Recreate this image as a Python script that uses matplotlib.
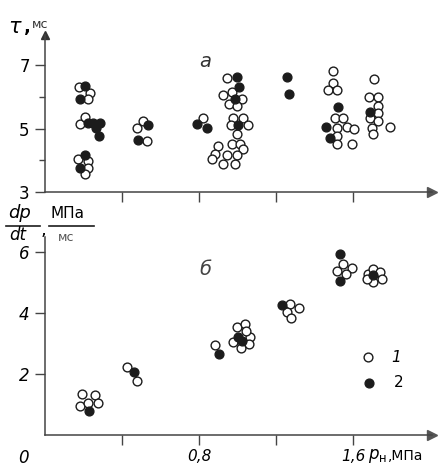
import matplotlib
matplotlib.use('Agg')
import matplotlib.pyplot as plt

# panel a: tau (ms) vs p_n (MPa)
tau_open_p = [0.177, 0.234, 0.223, 0.182, 0.208, 0.171, 0.223, 0.223, 0.208,
              0.478, 0.509, 0.530, 0.821,
              0.945, 0.925, 0.971, 1.023, 0.956, 0.997, 0.977, 1.029, 0.966, 1.055, 0.997,
              0.899, 0.971, 1.013, 1.029, 0.883, 0.945, 0.997, 0.868, 0.925, 0.987,
              1.496, 1.496, 1.470, 1.517, 1.506, 1.548, 1.517, 1.569, 1.605, 1.517, 1.517, 1.595,
              1.709, 1.683, 1.730, 1.730, 1.730, 1.688, 1.730, 1.699, 1.792, 1.704]
tau_open_v = [6.30, 6.11, 5.92, 5.13, 5.38, 4.05, 3.98, 3.76, 3.57,
              5.03, 5.25, 4.62, 5.32,
              6.59, 6.05, 6.14, 5.92, 5.79, 5.70, 5.32, 5.32, 5.10, 5.10, 4.84,
              4.46, 4.52, 4.52, 4.37, 4.21, 4.17, 4.17, 4.05, 3.89, 3.89,
              6.81, 6.43, 6.21, 6.21, 5.32, 5.32, 5.03, 5.06, 5.00, 4.78, 4.52, 4.52,
              6.56, 5.98, 5.98, 5.70, 5.48, 5.32, 5.25, 5.03, 5.06, 4.84]
tau_fill_p = [0.208, 0.182, 0.223, 0.249, 0.286, 0.265, 0.281, 0.208, 0.182,
              0.535, 0.483, 0.790, 0.842,
              0.997, 1.008, 0.987, 1.003, 1.257, 1.268,
              1.522, 1.460, 1.481, 1.688]
tau_fill_v = [6.33, 5.92, 5.19, 5.19, 5.16, 5.03, 4.75, 4.17, 3.76,
              5.10, 4.65, 5.13, 5.03,
              6.62, 6.30, 5.92, 5.10, 6.62, 6.08,
              5.67, 5.06, 4.71, 5.51]

# panel b: dp/dt (MPa/ms) vs p_n (MPa)
dpdt_open_p = [0.192, 0.260, 0.182, 0.223, 0.275, 0.426, 0.478, 0.883,
               0.997, 1.039, 0.977, 1.065, 1.060, 1.018, 1.044,
               1.273, 1.319, 1.257, 1.278,
               1.548, 1.595, 1.564, 1.517,
               1.678, 1.704, 1.740, 1.751, 1.704, 1.673]
dpdt_open_v = [1.35, 1.32, 0.96, 1.06, 1.06, 2.24, 1.78, 2.97,
               3.56, 3.63, 3.04, 3.23, 3.00, 2.84, 3.40,
               4.29, 4.16, 4.03, 3.83,
               5.61, 5.48, 5.28, 5.38,
               5.28, 5.45, 5.35, 5.12, 5.02, 5.12]
dpdt_fill_p = [0.229, 0.462, 0.904, 1.003, 1.023, 1.231, 1.532, 1.532, 1.704]
dpdt_fill_v = [0.79, 2.08, 2.67, 3.23, 3.07, 4.26, 5.94, 5.05, 5.25]

x_ticks = [0.4, 0.8, 1.2, 1.6]
ink = '#1c1c1c'

fig = plt.figure(figsize=(4.38, 4.70), dpi=100)
ax1 = fig.add_axes([45/438, 1-192/470, 387/438, 157/470])
ax2 = fig.add_axes([45/438, 1-435/470, 387/438, 198/470])


def style(ax):
    for s in ['top', 'right']:
        ax.spines[s].set_visible(False)
    for s in ['left', 'bottom']:
        ax.spines[s].set_color('#444444')
        ax.spines[s].set_linewidth(1.1)
    ax.tick_params(which='major', direction='out', length=7, width=1,
                   color='#444444', labelsize=12, pad=4)
    ax.tick_params(which='minor', direction='out', length=4, width=1, color='#444444')
    ax.set_xlim(0, 2.01)
    ax.set_xticks(x_ticks)
    # arrow at the end of the p axis
    ax.plot(1, 0, '>', color='#555555', ms=7, transform=ax.transAxes, clip_on=False)


def draw(ax, op, ov, fp, fv):
    ax.scatter(op, ov, s=40, facecolors='white', edgecolors=ink, linewidths=1.0,
               zorder=3, clip_on=False)
    ax.scatter(fp, fv, s=40, facecolors=ink, edgecolors=ink, linewidths=1.0,
               zorder=4, clip_on=False)


# panel a
style(ax1)
draw(ax1, tau_open_p, tau_open_v, tau_fill_p, tau_fill_v)
ax1.set_ylim(3, 7.95)
ax1.set_yticks([3, 5, 7])
ax1.set_yticks([4, 6], minor=True)
ax1.set_xticklabels([])
ax1.plot(0, 1, '^', color='#333333', ms=6, transform=ax1.transAxes, clip_on=False)
ax1.text(0.80, 6.95, 'а', fontsize=14, style='italic', color='#333333')

# panel b
style(ax2)
draw(ax2, dpdt_open_p, dpdt_open_v, dpdt_fill_p, dpdt_fill_v)
ax2.set_ylim(0, 6.5)
ax2.set_yticks([2, 4, 6])
ax2.set_yticklabels(['2', '4', '6'], style='italic')
ax2.set_xticklabels(['', '0,8', '', '1,6'], style='italic', fontsize=11)
ax2.tick_params(axis='x', pad=3)
ax2.text(0.80, 5.25, 'б', fontsize=14, style='italic', color='#444444')

# legend drawn as markers with numbers
ax2.scatter([1.68], [2.55], s=40, facecolors='white', edgecolors=ink, linewidths=1.0)
ax2.scatter([1.685], [1.72], s=40, facecolors=ink, edgecolors=ink)
ax2.text(1.80, 2.55, '1', fontsize=11, style='italic', va='center')
ax2.text(1.81, 1.72, '2', fontsize=11, va='center')

# axis captions
fig.text(8/438, 1-27/470, 'τ', fontsize=15, style='italic', va='center')
fig.text(24/438, 1-27/470, ',', fontsize=13, va='center', weight='bold')
fig.text(32/438, 1-24/470, 'мс', fontsize=9, va='center', color='#333333')

fig.text(8/438, 1-213/470, 'dp', fontsize=13, style='italic', va='center')
fig.text(9/438, 1-235/470, 'dt', fontsize=12, style='italic', va='center')
fig.add_artist(plt.Line2D([6/438, 40/438], [1-226/470, 1-226/470], color=ink, lw=1.2))
fig.text(41/438, 1-230/470, ',', fontsize=13, va='center')
fig.text(50/438, 1-213/470, 'МПа', fontsize=11, va='center')
fig.add_artist(plt.Line2D([49/438, 94/438], [1-226/470, 1-226/470], color=ink, lw=1.2))
fig.text(58/438, 1-238/470, 'мс', fontsize=9, va='center', color='#555555')

fig.text(18/438, 1-458/470, '0', fontsize=12, style='italic', va='center')
fig.text(368/438, 1-456/470, r'$p_{\rm н}$', fontsize=12, va='center')
fig.text(388/438, 1-456/470, ',МПа', fontsize=10, va='center')

fig.savefig('out.png', dpi=100)
